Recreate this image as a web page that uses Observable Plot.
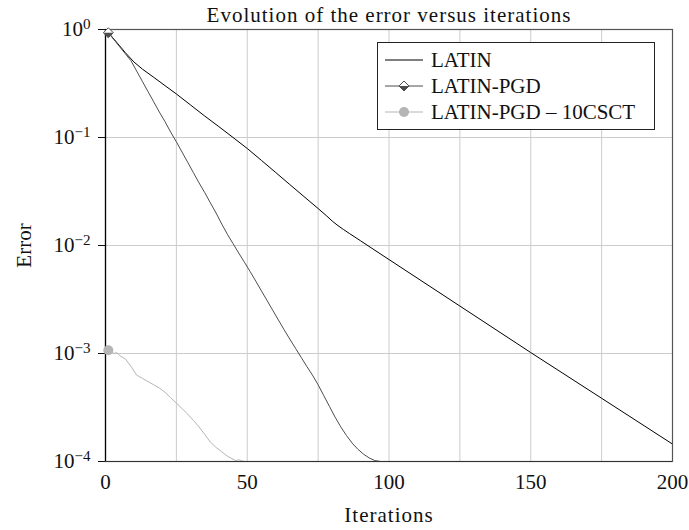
<!DOCTYPE html>
<html><head><meta charset="utf-8">
<script src="https://cdn.jsdelivr.net/npm/d3@7"></script>
<script src="https://cdn.jsdelivr.net/npm/@observablehq/plot@0.6"></script>
<style>
body{margin:0;background:#fff;}
#wrap{position:relative;width:689px;height:530px;font-family:"Liberation Serif",serif;}
#legend{position:absolute;left:377px;top:42px;width:278px;height:88px;border:1px solid #222;background:#fff;box-sizing:border-box;}
.row{position:absolute;left:0;width:100%;height:26px;font-size:21px;color:#111;}
.row svg{position:absolute;left:7px;top:0;}
.row span{position:absolute;left:53px;top:0;line-height:26px;white-space:nowrap;}
</style></head><body><div id="wrap"></div>
<script>
const titleText = "Evolution of the error versus iterations";
const xLabel = "Iterations";
const yLabel = "Error";
const seriesNames = ["LATIN", "LATIN-PGD", "LATIN-PGD \u2013 10CSCT"];
const seriesColors = ["#000000", "#4d4d4d", "#b5b5b5"];
const xTicks = [0, 50, 100, 150, 200];
const xGrid = [0, 25, 50, 75, 100, 125, 150, 175, 200];
const yTicks = [1, 0.1, 0.01, 0.001, 0.0001];

const latinIter = [1, 3, 5, 7, 10, 13, 17, 21, 25, 30, 35, 40, 45, 50, 55, 60, 65, 70, 75, 78, 80, 82, 84, 86, 90, 100, 125, 150, 175, 200];
const latinErr = [0.938, 0.813, 0.705, 0.61, 0.501, 0.43, 0.361, 0.302, 0.253, 0.2, 0.158, 0.126, 0.1, 0.0791, 0.0614, 0.0475, 0.0367, 0.0284, 0.022, 0.0188, 0.0168, 0.01528, 0.01403, 0.01294, 0.01104, 0.00741, 0.00275, 0.00102, 0.000385, 0.000145];

const pgdIter = [1, 3, 5, 7, 9, 11, 13, 15, 17, 19, 21, 23, 25, 27, 29, 31, 33, 35, 37, 39, 41, 43, 45, 47, 49, 51, 53, 55, 57, 59, 61, 63, 65, 67, 69, 71, 73, 75, 77, 79, 81, 83, 85, 87, 89, 91, 93, 95, 97];
const pgdErr = [0.933, 0.804, 0.692, 0.596, 0.513, 0.412, 0.331, 0.266, 0.214, 0.172, 0.14, 0.112, 0.0912, 0.0733, 0.0589, 0.0473, 0.038, 0.0309, 0.0248, 0.02, 0.0158, 0.0127, 0.0104, 0.00851, 0.007, 0.00575, 0.00468, 0.0038, 0.00309, 0.00251, 0.00204, 0.00166, 0.00136, 0.00112, 0.000923, 0.000759, 0.000631, 0.000513, 0.000407, 0.000324, 0.000257, 0.000209, 0.000174, 0.000148, 0.00013, 0.000117, 0.000108, 0.000102, 0.0001];

const csctIter = [1, 2, 3, 4, 5, 7, 9, 11, 13, 15, 17, 19, 21, 23, 25, 27, 29, 31, 33, 35, 37, 39, 41, 43, 45, 46, 47, 48, 49];
const csctErr = [0.00107, 0.00105, 0.001, 0.00102, 0.000955, 0.000891, 0.000759, 0.000631, 0.000589, 0.00055, 0.000513, 0.000479, 0.000437, 0.000389, 0.000347, 0.000309, 0.000275, 0.00024, 0.000209, 0.000178, 0.000151, 0.000135, 0.000123, 0.000112, 0.000105, 0.000102, 0.0001035, 0.000102, 0.0001];

const toRows = (xs, ys) => xs.map((x, i) => ({x, y: ys[i]}));
const latin = toRows(latinIter, latinErr);
const pgd = toRows(pgdIter, pgdErr);
const csct = toRows(csctIter, csctErr);

const halfDiamond = {
  draw(ctx, size) {
    const r = Math.sqrt(size) * 0.62625;
    ctx.moveTo(-r, 0); ctx.lineTo(r, 0); ctx.lineTo(0, r); ctx.closePath();
  }
};

const font = '"Liberation Serif", serif';
const plot = Plot.plot({
  width: 689, height: 530,
  marginLeft: 105, marginRight: 17, marginTop: 29, marginBottom: 69,
  style: {fontFamily: font, fontSize: "21px", color: "#111", background: "#fff"},
  x: {domain: [0, 200]},
  y: {type: "log", domain: [1e-4, 1]},
  marks: [
    Plot.gridX(xGrid, {stroke: "#cccccc", strokeOpacity: 1}),
    Plot.gridY(yTicks, {stroke: "#cccccc", strokeOpacity: 1}),
    Plot.axisX(xTicks, {tickSize: 0, tickPadding: 13, label: xLabel, labelAnchor: "center", labelArrow: "none", labelOffset: 60}),
    Plot.axisY(yTicks, {tickSize: 7, tickPadding: 8, tickFormat: d => String(Math.round(Math.log10(d))).replace("-", "\u2212"), label: yLabel, labelAnchor: "center", labelArrow: "none", labelOffset: 89}),
    Plot.frame({stroke: "#555", strokeWidth: 1.2}),
    Plot.ruleX([0], {stroke: "#000", strokeWidth: 1.2}),
    Plot.ruleY([1e-4], {stroke: "#333", strokeWidth: 1.2}),
    Plot.line(latin, {x: "x", y: "y", stroke: seriesColors[0], strokeWidth: 1, clip: true}),
    Plot.line(pgd, {x: "x", y: "y", stroke: seriesColors[1], strokeWidth: 1, clip: true}),
    Plot.line(csct, {x: "x", y: "y", stroke: seriesColors[2], strokeWidth: 1, clip: true}),
    Plot.dot([pgd[0]], {x: "x", y: "y", symbol: "diamond2", r: 4.5, fill: "#fff", stroke: seriesColors[1], strokeWidth: 1}),
    Plot.dot([pgd[0]], {x: "x", y: "y", symbol: halfDiamond, r: 4.5, fill: seriesColors[1], stroke: "none"}),
    Plot.dot([csct[0]], {x: "x", y: "y", r: 5, fill: seriesColors[2], stroke: "none"}),
    Plot.text([titleText], {text: d => d, frameAnchor: "top", lineAnchor: "bottom", dy: -8, fontSize: 21, fill: "#111"})
  ]
});

// superscript exponents on y tick labels
plot.querySelectorAll('g[aria-label="y-axis tick label"] text').forEach(t => {
  const exp = t.textContent;
  t.textContent = "10";
  const ts = document.createElementNS("http://www.w3.org/2000/svg", "tspan");
  ts.setAttribute("dy", "-0.5em");
  ts.setAttribute("font-size", "0.72em");
  ts.textContent = exp;
  t.appendChild(ts);
});
plot.querySelectorAll('g[aria-label="text"] text, g[aria-label="x-axis label"] text').forEach(t => t.setAttribute("letter-spacing", "1px"));

const wrap = document.getElementById("wrap");
wrap.appendChild(plot);

// legend
const legend = document.createElement("div");
legend.id = "legend";
const rowTops = [4, 30, 56];
seriesNames.forEach((name, i) => {
  const row = document.createElement("div");
  row.className = "row";
  row.style.top = rowTops[i] + "px";
  let marker = "";
  if (i === 1) marker = `<path d="M19,8 L24,13 L19,18 L14,13 Z" fill="#fff" stroke="${seriesColors[1]}"/><path d="M14,13 L24,13 L19,18 Z" fill="${seriesColors[1]}"/>`;
  if (i === 2) marker = `<circle cx="19" cy="13" r="5" fill="${seriesColors[2]}"/>`;
  row.innerHTML = `<svg width="40" height="26"><line x1="0" x2="38" y1="13" y2="13" stroke="${seriesColors[i]}" stroke-width="1"/>${marker}</svg><span>${name}</span>`;
  legend.appendChild(row);
});
wrap.appendChild(legend);
</script></body></html>
